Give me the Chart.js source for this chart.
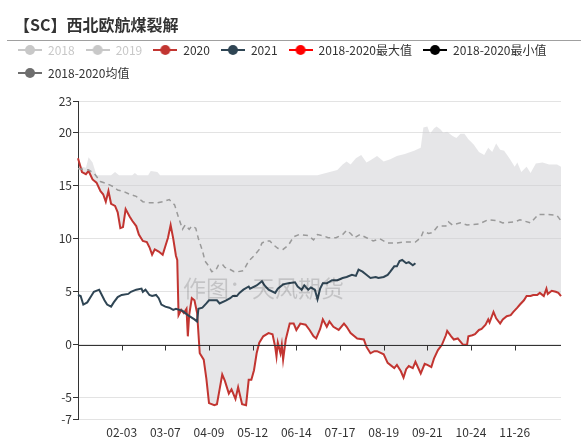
<!DOCTYPE html>
<html>
<head>
<meta charset="utf-8">
<script src="https://cdn.jsdelivr.net/npm/chart.js@4"></script>
<style>
body { margin: 0; background: #fff; font-family: "Noto Sans CJK SC", sans-serif; }
#wrap { position: relative; width: 581px; height: 440px; }
#wrap canvas { position: absolute; left: 0; top: 0; }
#title { position: absolute; left: 14px; top: 14px; font-size: 16px; line-height: 20px; font-weight: bold; color: #333; }
#rule { position: absolute; left: 7px; right: 0; top: 40px; height: 1px; background: #a0a0a0; }
#mark { position: absolute; left: 183px; top: 274px; font-size: 23px; line-height: 26px; color: rgba(0, 0, 0, 0.15); pointer-events: none; }
</style>
</head>
<body>
<div id="wrap">
  <canvas id="myChart" width="581" height="440"></canvas>
  <div id="title">【SC】西北欧航煤裂解</div>
  <div id="rule"></div>
  <div id="mark">作图：天风期货</div>
</div>
<script>
var ctx = document.getElementById("myChart");

// one category per calendar day (leap-year calendar, 01-01 .. 12-31)
var monthDays = [31, 29, 31, 30, 31, 30, 31, 31, 30, 31, 30, 31];
var days = [];
monthDays.forEach(function (n, m) {
    for (var d = 1; d <= n; d++) {
        days.push(String(m + 1).padStart(2, '0') + '-' + String(d).padStart(2, '0'));
    }
});
var xTickLabels = ['02-03', '03-07', '04-09', '05-12', '06-14', '07-17', '08-19', '09-21', '10-24', '11-26'];
var yTickLabels = [-7, -5, 0, 5, 10, 15, 20, 23];

// 2018 and 2019 are switched off in the legend
var s2018 = [];
var s2019 = [];

var s2020 = [
    ['01-01', 17.6], ['01-04', 16.3], ['01-07', 16.1], ['01-09', 16.4], ['01-12', 15.6], ['01-15', 15.3],
    ['01-18', 14.5], ['01-20', 14.2], ['01-22', 13.5], ['01-24', 14.5], ['01-26', 13.3], ['01-29', 13.1],
    ['01-31', 12.5], ['02-02', 11.0], ['02-04', 11.1], ['02-06', 12.8], ['02-09', 12.1], ['02-11', 11.7],
    ['02-14', 11.2], ['02-16', 10.4], ['02-19', 9.8], ['02-22', 9.7], ['02-24', 9.2], ['02-26', 8.5],
    ['02-28', 9.0], ['03-02', 8.8], ['03-05', 8.5], ['03-07', 9.3], ['03-09', 10.1], ['03-11', 11.3],
    ['03-13', 10.0], ['03-15', 8.4], ['03-16', 8.0], ['03-17', 2.8], ['03-19', 3.3], ['03-21', 3.0],
    ['03-23', 3.4], ['03-24', 0.8], ['03-25', 2.8], ['03-27', 4.4], ['03-29', 4.2], ['03-31', 3.0],
    ['04-02', -0.8], ['04-05', -1.4], ['04-07', -3.2], ['04-09', -5.5], ['04-13', -5.7], ['04-15', -5.6],
    ['04-17', -4.2], ['04-19', -2.8], ['04-21', -3.4], ['04-24', -4.6], ['04-26', -4.2], ['04-29', -5.1],
    ['05-01', -4.0], ['05-04', -5.6], ['05-07', -5.7], ['05-09', -3.3], ['05-11', -3.3], ['05-13', -2.4],
    ['05-15', -0.8], ['05-17', 0.2], ['05-20', 0.8], ['05-24', 1.1], ['05-27', 1.0], ['05-29', -0.2],
    ['05-30', -1.1], ['05-31', 0.2], ['06-02', -0.8], ['06-03', 0.0], ['06-04', -1.4], ['06-06', 0.5],
    ['06-09', 2.0], ['06-12', 2.0], ['06-14', 1.4], ['06-17', 2.0], ['06-21', 1.9], ['06-24', 1.4],
    ['06-27', 0.8], ['06-29', 0.6], ['07-02', 1.5], ['07-04', 2.4], ['07-07', 1.7], ['07-09', 2.2],
    ['07-12', 1.7], ['07-16', 1.4], ['07-20', 2.0], ['07-22', 1.7], ['07-25', 1.1], ['07-30', 0.6],
    ['08-04', 0.5], ['08-06', -0.2], ['08-09', -0.8], ['08-12', -0.6], ['08-14', -0.6], ['08-19', -0.9],
    ['08-22', -1.7], ['08-27', -2.2], ['08-29', -1.9], ['09-01', -2.5], ['09-03', -3.1], ['09-05', -2.3],
    ['09-07', -2.0], ['09-10', -2.2], ['09-12', -1.6], ['09-16', -2.7], ['09-19', -1.8], ['09-21', -1.9],
    ['09-24', -2.1], ['09-26', -1.3], ['09-29', -0.5], ['10-02', 0.0], ['10-05', 0.9], ['10-06', 1.3],
    ['10-09', 0.8], ['10-11', 0.5], ['10-14', 0.6], ['10-16', 0.3], ['10-18', 0.0], ['10-21', 0.0],
    ['10-22', 0.8], ['10-25', 0.9], ['10-27', 1.0], ['10-30', 1.4], ['11-01', 1.5], ['11-04', 1.9],
    ['11-06', 2.4], ['11-07', 2.1], ['11-10', 3.1], ['11-12', 2.5], ['11-15', 2.0], ['11-17', 2.4],
    ['11-20', 2.7], ['11-23', 2.8], ['11-25', 3.1], ['11-28', 3.5], ['11-30', 3.8], ['12-03', 4.2],
    ['12-05', 4.6], ['12-08', 4.6], ['12-10', 4.7], ['12-13', 4.7], ['12-15', 4.9], ['12-18', 4.6],
    ['12-20', 5.3], ['12-21', 4.8], ['12-24', 5.1], ['12-27', 5.0], ['12-29', 4.9], ['12-31', 4.6]
];

var s2021 = [
    ['01-01', 4.7], ['01-03', 4.6], ['01-05', 3.8], ['01-08', 4.0], ['01-11', 4.6], ['01-13', 5.0],
    ['01-17', 5.2], ['01-21', 4.2], ['01-23', 3.8], ['01-26', 3.6], ['01-28', 4.0], ['01-31', 4.5],
    ['02-03', 4.7], ['02-08', 4.8], ['02-10', 5.0], ['02-14', 5.2], ['02-18', 5.3], ['02-19', 5.0],
    ['02-21', 5.2], ['02-24', 4.7], ['02-26', 4.6], ['02-29', 4.7], ['03-02', 4.4], ['03-04', 3.8],
    ['03-07', 3.6], ['03-10', 3.5], ['03-13', 3.3], ['03-15', 3.4], ['03-20', 3.2], ['03-24', 2.8],
    ['03-29', 2.4], ['03-31', 2.2], ['04-01', 3.4], ['04-04', 3.5], ['04-07', 3.9], ['04-09', 4.2],
    ['04-12', 4.2], ['04-15', 4.2], ['04-17', 3.9], ['04-22', 4.2], ['04-25', 4.4], ['04-27', 4.6],
    ['04-30', 4.6], ['05-02', 4.9], ['05-05', 5.2], ['05-09', 5.5], ['05-10', 5.3], ['05-15', 5.6],
    ['05-19', 6.0], ['05-21', 5.6], ['05-24', 5.2], ['05-29', 4.9], ['05-31', 5.3], ['06-04', 5.7],
    ['06-08', 5.8], ['06-13', 5.9], ['06-15', 5.5], ['06-18', 5.2], ['06-20', 5.6], ['06-23', 5.2],
    ['06-25', 5.4], ['06-28', 5.2], ['06-30', 4.3], ['07-02', 5.3], ['07-04', 5.8], ['07-07', 5.8],
    ['07-11', 6.1], ['07-15', 6.1], ['07-19', 6.3], ['07-22', 6.4], ['07-26', 6.6], ['07-29', 6.5],
    ['07-31', 7.1], ['08-03', 6.9], ['08-05', 6.7], ['08-09', 6.3], ['08-13', 6.4], ['08-15', 6.3],
    ['08-19', 6.4], ['08-22', 6.6], ['08-24', 6.9], ['08-27', 7.4], ['08-29', 7.4], ['08-31', 7.9],
    ['09-02', 8.0], ['09-05', 7.7], ['09-07', 7.8], ['09-10', 7.5], ['09-12', 7.7]
];

var sMax = [
    ['01-01', 17.6], ['01-04', 16.8], ['01-07', 16.7], ['01-09', 17.7], ['01-12', 17.2], ['01-15', 16.0],
    ['01-26', 16.0], ['01-29', 16.3], ['02-01', 16.0], ['02-11', 16.0], ['02-13', 16.2], ['02-15', 16.0],
    ['02-23', 16.0], ['02-25', 16.4], ['03-01', 16.3], ['03-03', 16.0], ['06-30', 16.0], ['07-15', 16.5],
    ['07-19', 17.0], ['07-22', 17.3], ['07-25', 17.0], ['07-29', 17.6], ['08-02', 17.9], ['08-06', 17.2],
    ['08-09', 17.4], ['08-14', 17.8], ['08-19', 17.3], ['08-24', 17.5], ['08-29', 17.8], ['09-04', 18.0],
    ['09-11', 18.3], ['09-16', 18.6], ['09-18', 20.5], ['09-21', 20.6], ['09-23', 19.9], ['09-26', 20.4],
    ['09-28', 20.6], ['10-01', 20.3], ['10-03', 20.0], ['10-06', 20.1], ['10-10', 19.7], ['10-13', 19.5],
    ['10-16', 19.9], ['10-19', 19.9], ['10-22', 19.4], ['10-26', 18.9], ['10-30', 18.2], ['11-03', 17.9],
    ['11-06', 18.6], ['11-09', 18.2], ['11-12', 19.0], ['11-15', 18.4], ['11-18', 18.3], ['11-22', 17.6],
    ['11-26', 16.8], ['11-28', 17.2], ['12-01', 16.3], ['12-05', 16.8], ['12-08', 16.2], ['12-12', 17.1],
    ['12-17', 17.2], ['12-22', 17.0], ['12-28', 17.0], ['12-31', 16.8]
];

// the lower edge of the band follows the 2020 line all year
var sMin = s2020;

var sMean = [
    ['01-01', 16.6], ['01-09', 16.5], ['01-13', 16.2], ['01-18', 15.4], ['01-23', 15.2], ['01-28', 14.9],
    ['01-31', 14.6], ['02-04', 14.5], ['02-09', 14.2], ['02-14', 14.0], ['02-19', 13.5], ['02-24', 13.4],
    ['03-01', 13.4], ['03-05', 13.5], ['03-10', 13.7], ['03-14', 13.2], ['03-17', 12.0], ['03-20', 10.9],
    ['03-22', 11.3], ['03-25', 10.9], ['03-27', 11.2], ['03-30', 11.0], ['04-01', 10.0], ['04-04', 8.9],
    ['04-06', 7.9], ['04-09', 7.4], ['04-11', 6.9], ['04-14', 7.0], ['04-16', 7.5], ['04-19', 7.6],
    ['04-21', 7.3], ['04-25', 7.1], ['04-28', 6.9], ['05-01', 6.9], ['05-05', 7.0], ['05-09', 7.9],
    ['05-13', 8.4], ['05-17', 9.0], ['05-19', 9.6], ['05-22', 9.8], ['05-25', 9.8], ['05-28', 9.4],
    ['05-31', 9.1], ['06-04', 9.0], ['06-08', 9.4], ['06-12', 10.2], ['06-16', 10.4], ['06-23', 10.3],
    ['06-27', 9.9], ['06-30', 10.4], ['07-04', 10.3], ['07-08', 10.1], ['07-14', 10.1], ['07-19', 10.4],
    ['07-22', 10.8], ['07-25', 10.5], ['07-28', 10.1], ['08-01', 10.4], ['08-06', 10.1], ['08-11', 9.8],
    ['08-16', 10.0], ['08-22', 9.6], ['08-29', 9.6], ['09-03', 9.7], ['09-12', 9.7], ['09-16', 10.1],
    ['09-18', 10.7], ['09-22', 10.5], ['09-25', 10.6], ['09-29', 11.2], ['10-05', 11.2], ['10-07', 11.6],
    ['10-10', 11.3], ['10-16', 11.5], ['10-21', 11.3], ['10-30', 11.4], ['11-06', 11.8], ['11-13', 11.7],
    ['11-17', 11.5], ['11-26', 11.6], ['11-30', 11.8], ['12-08', 11.5], ['12-14', 12.3], ['12-21', 12.3],
    ['12-28', 12.2], ['12-31', 11.7]
];

var legendColors = ['#c8c8c8', '#c8c8c8', '#c23531', '#2f4554', '#ff0000', '#000000', '#6e6e6e'];

// legend marker: short line with a dot in the middle
function legendIcon(color) {
    var c = document.createElement('canvas');
    c.width = 24;
    c.height = 12;
    var g = c.getContext('2d');
    g.strokeStyle = color;
    g.lineWidth = 2;
    g.beginPath();
    g.moveTo(0, 6);
    g.lineTo(24, 6);
    g.stroke();
    g.fillStyle = color;
    g.beginPath();
    g.arc(12, 6, 5, 0, Math.PI * 2);
    g.fill();
    return c;
}

// push the plot down below the legend
var legendGap = {
    id: 'legendGap',
    beforeInit: function (chart) {
        var fit = chart.legend.fit;
        chart.legend.fit = function () {
            fit.call(this);
            this.height += 12;
        };
    }
};

// x axis line sits on zero, with its tick marks
var zeroAxis = {
    id: 'zeroAxis',
    afterDatasetsDraw: function (chart) {
        var c = chart.ctx, area = chart.chartArea, x = chart.scales.x, y = chart.scales.y;
        var py = Math.round(y.getPixelForValue(0)) + 0.5;
        c.save();
        c.strokeStyle = '#333';
        c.lineWidth = 1;
        c.beginPath();
        c.moveTo(area.left, py);
        c.lineTo(area.right, py);
        x.ticks.forEach(function (t, i) {
            var px = Math.round(x.getPixelForTick(i)) + 0.5;
            c.moveTo(px, py);
            c.lineTo(px, py + 5);
        });
        c.stroke();
        c.restore();
    }
};

Chart.defaults.font.family = '"Noto Sans CJK SC", sans-serif';
Chart.defaults.font.size = 12;
Chart.defaults.color = '#333';

new Chart(ctx, {
    type: 'line',
    data: {
        labels: days,
        datasets: [
            { label: '2018', data: s2018, hidden: true, borderColor: '#c8c8c8', pointRadius: 0 },
            { label: '2019', data: s2019, hidden: true, borderColor: '#c8c8c8', pointRadius: 0 },
            { label: '2020', data: s2020, borderColor: '#c23531', borderWidth: 2, pointRadius: 0, order: 2 },
            { label: '2021', data: s2021, borderColor: '#2f4554', borderWidth: 2, pointRadius: 0, order: 1 },
            {
                label: '2018-2020最大值', data: sMax, borderColor: 'transparent',
                backgroundColor: 'rgba(205, 205, 210, 0.5)', fill: '+1', pointRadius: 0, order: 4
            },
            { label: '2018-2020最小值', data: sMin, borderColor: 'transparent', fill: false, pointRadius: 0, order: 3 },
            {
                label: '2018-2020均值', data: sMean, borderColor: '#9a9a9a', borderWidth: 1.5,
                borderDash: [5, 4], pointRadius: 0, order: 0
            }
        ]
    },
    options: {
        responsive: false,
        animation: false,
        layout: { padding: { top: 33, left: 7, right: 0, bottom: 0 } },
        plugins: {
            title: { display: false },
            tooltip: { enabled: false },
            legend: {
                display: true,
                position: 'top',
                align: 'start',
                labels: {
                    usePointStyle: true,
                    pointStyleWidth: 24,
                    padding: 11,
                    font: { size: 12 },
                    generateLabels: function (chart) {
                        return chart.data.datasets.map(function (ds, i) {
                            var on = chart.isDatasetVisible(i);
                            return {
                                text: ds.label,
                                datasetIndex: i,
                                hidden: false,
                                fontColor: on ? '#333' : '#c8c8c8',
                                pointStyle: legendIcon(on ? legendColors[i] : '#c8c8c8'),
                                fillStyle: 'transparent',
                                strokeStyle: 'transparent',
                                lineWidth: 0
                            };
                        });
                    }
                }
            },
            filler: { drawTime: 'beforeDatasetsDraw' }
        },
        scales: {
            x: {
                type: 'category',
                grid: { display: false, drawTicks: false },
                border: { display: false },
                ticks: { autoSkip: false, maxRotation: 0, padding: 6, color: '#333' },
                afterBuildTicks: function (s) {
                    s.ticks = xTickLabels.map(function (l) { return { value: days.indexOf(l) }; });
                },
                afterFit: function (s) { s.height = 21; }
            },
            y: {
                min: -7,
                max: 23,
                grid: { color: '#e3e3e3', tickColor: '#333', tickLength: 5, drawTicks: true },
                border: { display: true, color: '#333' },
                ticks: { padding: 1, color: '#333' },
                afterBuildTicks: function (s) {
                    s.ticks = yTickLabels.map(function (v) { return { value: v }; });
                },
                afterFit: function (s) { s.width = 71; }
            },
            yPad: {
                type: 'linear',
                position: 'right',
                grid: { display: false },
                border: { display: false },
                ticks: { display: false },
                afterFit: function (s) { s.width = 20; }
            }
        }
    },
    plugins: [legendGap, zeroAxis]
});
</script>
</body>
</html>
